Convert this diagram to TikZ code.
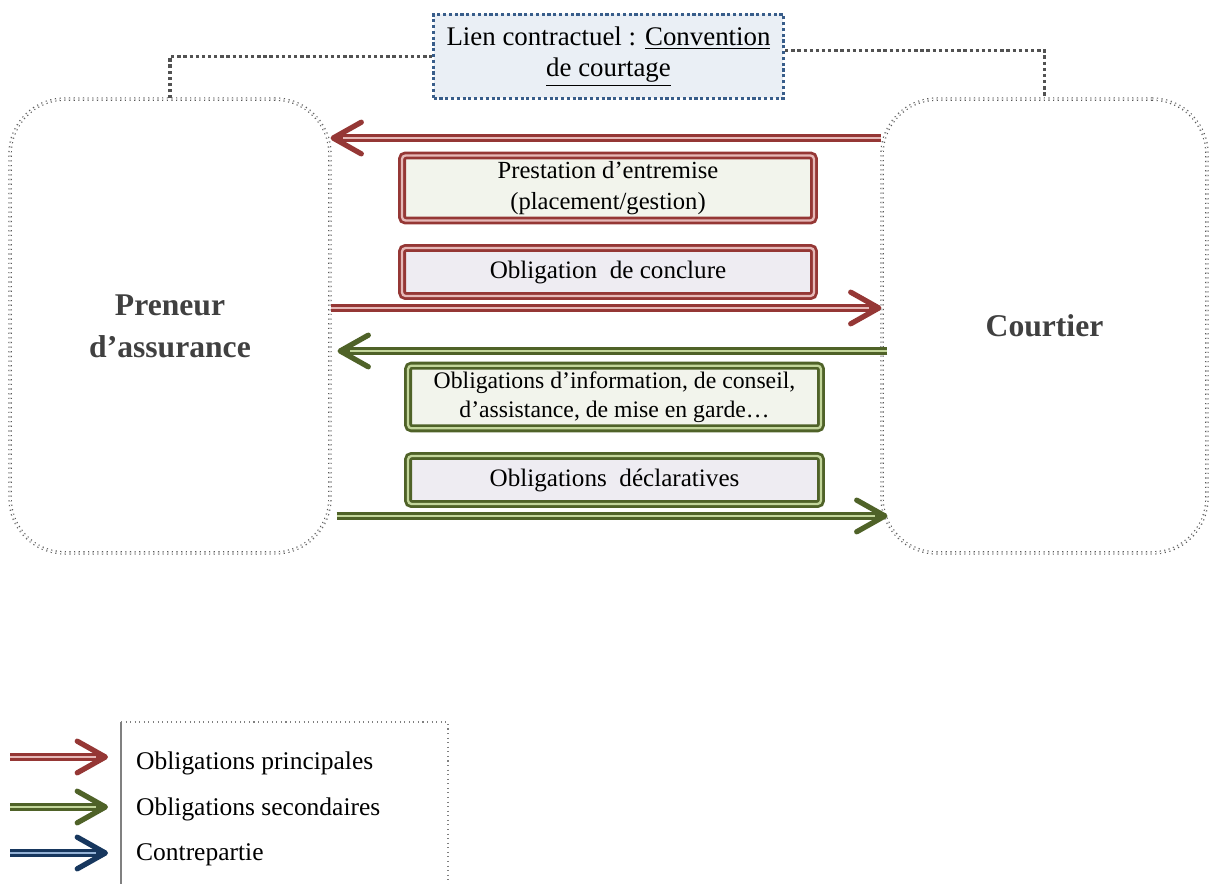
\documentclass[tikz,border=0pt]{standalone}
\usepackage{fontspec}
\setmainfont{Liberation Serif}
\usepackage{tikz}
\usetikzlibrary{arrows.meta,positioning,calc}
\definecolor{rouge}{RGB}{149,55,53}
\definecolor{rougeclair}{RGB}{230,185,184}
\definecolor{vert}{RGB}{79,98,40}
\definecolor{vertclair}{RGB}{195,214,155}
\definecolor{bleu}{RGB}{23,55,94}
\definecolor{bleuclair}{RGB}{149,179,215}
\definecolor{fondvert}{RGB}{242,244,236}
\definecolor{fondmauve}{RGB}{238,236,242}
\definecolor{fondlien}{RGB}{234,239,245}
\definecolor{traitlien}{RGB}{56,93,138}
\tikzset{
	partie/.style={rectangle,rounded corners=1.1cm,draw=black!65,dotted,double,line width=0.65pt,double distance=0.7pt,
		font=\fontsize{18}{24}\selectfont\bfseries,text=black!75,align=center},
	cadre/.style={rectangle,rounded corners=2pt,double,line width=1.6pt,double distance=1.3pt,
		font=\fontsize{14.3}{17.6}\selectfont,align=center},
	fleche/.style={line width=4.4pt,draw=#1,
		-{Straight Barb[length=16pt,width=18pt,line width=3pt,round]}},
	fleche rouge/.style={fleche=rouge,postaction={draw=rougeclair,line width=1.2pt,-,shorten >=7pt}},
	fleche verte/.style={fleche=vert,postaction={draw=vertclair,line width=1.2pt,-,shorten >=7pt}},
	fleche bleue/.style={fleche=bleu,postaction={draw=bleuclair,line width=1.2pt,-,shorten >=7pt}}}

\begin{document}
\begin{tikzpicture}[x=0.02cm,y=-0.02cm]

	\tikzstyle{every node}=[font=\fontsize{14}{17.4}\selectfont]
	\tikzstyle{lien}=[rectangle,draw=traitlien,fill=fondlien,line width=1.8pt,dash pattern=on 1.8pt off 1.5pt,
		font=\fontsize{15.3}{17.6}\selectfont,align=center]
	\tikzstyle{pointille}=[draw=black!68,line width=1.9pt,dash pattern=on 1.9pt off 1.6pt]
	\tikzstyle{legende}=[anchor=west,font=\fontsize{14.5}{17}\selectfont]

	\useasboundingbox (0,0) rectangle (1209,884);

	% les deux parties
	\node[partie,minimum width=6.4cm,minimum height=9.08cm] (pa) at (170,326) {Preneur\\d’assurance};
	\node[partie,minimum width=6.5cm,minimum height=9.08cm] (co) at (1044.5,326) {Courtier};

	% lien contractuel
	\node[lien,minimum width=7.0cm,minimum height=1.68cm] (lc) at (608.5,56.5)
		{Lien contractuel : \underline{Convention}\\\underline{de courtage}};
	\draw[pointille] (pa.north) |- (lc.west);
	\draw[pointille] ([yshift=0.12cm]lc.east) -| (co.north);

	% obligations
	\node[cadre,draw=rouge,double=rougeclair,fill=fondvert,minimum width=8.24cm,minimum height=1.18cm,font=\fontsize{14}{17.6}\selectfont]
		(presta) at (608,188) {Prestation d’entremise\\(placement/gestion)};
	\node[cadre,draw=rouge,double=rougeclair,fill=fondmauve,minimum width=8.24cm,minimum height=0.96cm]
		(concl) at (608,272) {Obligation~ de conclure};
	\node[cadre,draw=vert,double=vertclair,fill=fondvert,minimum width=8.26cm,minimum height=1.2cm,font=\fontsize{13.5}{16.6}\selectfont]
		(info) at (614.5,397) {Obligations d’information, de conseil,\\d’assistance, de mise en garde…};
	\node[cadre,draw=vert,double=vertclair,fill=fondmauve,minimum width=8.26cm,minimum height=0.96cm]
		(decl) at (614.5,480) {Obligations~ déclaratives};

	\path
	([yshift=3.76cm]co.west) edge[fleche rouge] ([yshift=3.76cm]pa.east)
	([yshift=0.36cm]pa.east) edge[fleche rouge] ([yshift=0.36cm]co.west)
	([shift={(0.12cm,-0.5cm)}]co.west) edge[fleche verte] ([shift={(0.14cm,-0.5cm)}]pa.east)
	([shift={(0.12cm,-3.8cm)}]pa.east) edge[fleche verte] ([shift={(0.12cm,-3.8cm)}]co.west);

	% legende
	\draw[black!50,line width=0.6pt] (121,884) -- (121,722);
	\draw[black!50,line width=0.6pt,dotted] (121,722) -- (448,722) -- (448,884);
	\coordinate (r0) at (10,757);  \coordinate (r1) at (108,757);
	\coordinate (v0) at (10,807);  \coordinate (v1) at (108,807);
	\coordinate (b0) at (10,853);  \coordinate (b1) at (108,853);
	\draw[fleche rouge] (r0) -- (r1);
	\draw[fleche verte] (v0) -- (v1);
	\draw[fleche bleue] (b0) -- (b1);
	\node[legende] (lr) at (130,763) {Obligations principales};
	\node[legende] (lv) at (130,809) {Obligations secondaires};
	\node[legende] (lb) at (130,855) {Contrepartie};

\end{tikzpicture}
\end{document}
